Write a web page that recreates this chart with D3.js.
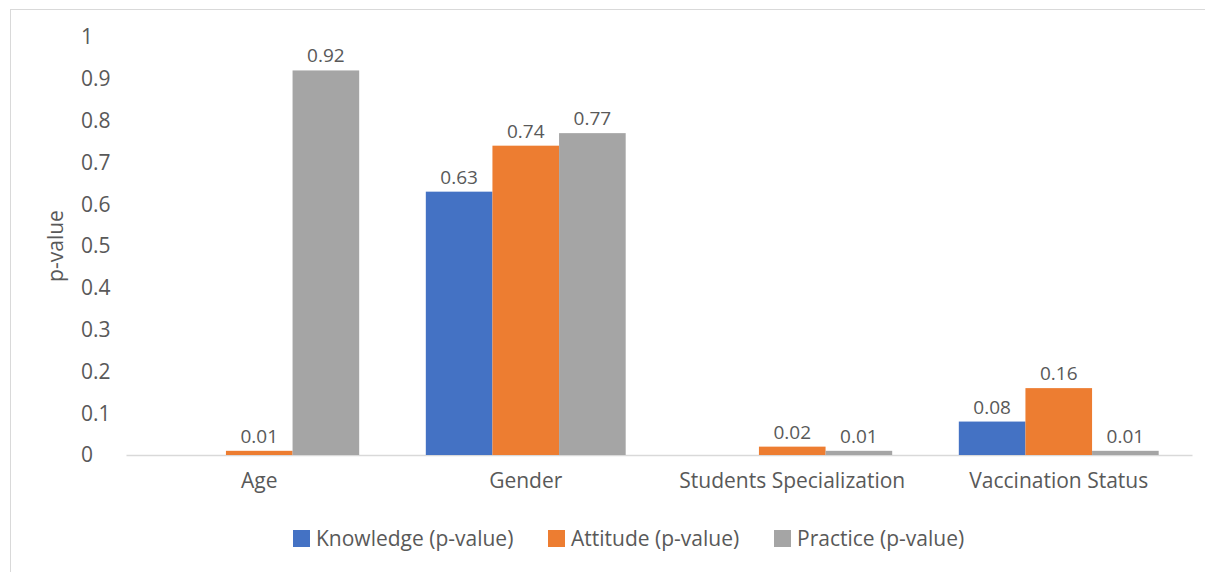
<!DOCTYPE html>
<html>
<head>
<meta charset="utf-8">
<script src="https://cdn.jsdelivr.net/npm/d3@7"></script>
<style>
  body { margin: 0; background: #fff; }
  text { font-family: "Open Sans", "Noto Sans", sans-serif; fill: #595959; }
</style>
</head>
<body>
<svg id="chart" width="1205" height="572"></svg>
<script>
const categories = ['Age', 'Gender', 'Students Specialization', 'Vaccination Status'];
const seriesNames = ['Knowledge (p-value)', 'Attitude (p-value)', 'Practice (p-value)'];
const knowledge = [null, 0.63, null, 0.08];
const attitude = [0.01, 0.74, 0.02, 0.16];
const practice = [0.92, 0.77, 0.01, 0.01];
const yTicks = [0, 0.1, 0.2, 0.3, 0.4, 0.5, 0.6, 0.7, 0.8, 0.9, 1];
const colors = ['#4472C4', '#ED7D31', '#A5A5A5'];

const width = 1205;
const height = 572;
const svg = d3.select('#chart');

// outer chart border
svg.append('rect')
  .attr('x', 10.5).attr('y', 9.5)
  .attr('width', width - 8).attr('height', height)
  .attr('fill', 'none').attr('stroke', '#d9d9d9');

const xScale = d3.scaleBand().domain(categories).range([126, 1192]).paddingInner(0).paddingOuter(0);
const inner = d3.scaleBand().domain(seriesNames).range([0, xScale.bandwidth()]).paddingInner(0).paddingOuter(0.5);
const yScale = d3.scaleLinear().domain([0, 1]).range([455, 37]);

// y tick labels
svg.append('g').selectAll('text').data(yTicks).join('text')
  .attr('x', 81).attr('y', d => yScale(d))
  .attr('dy', '0.35em')
  .attr('font-size', 21)
  .text(d => d3.format('~g')(d));

// y axis title
svg.append('text')
  .attr('transform', `translate(56,${yScale(0.5)}) rotate(-90)`)
  .attr('text-anchor', 'middle')
  .attr('dy', '0.35em')
  .attr('font-size', 21)
  .text('p-value');

// x axis
const xAxis = d3.axisBottom(xScale).tickSize(0).tickPadding(18);
const xg = svg.append('g').attr('transform', `translate(0,${yScale(0)})`).call(xAxis);
xg.select('.domain').attr('stroke', '#d9d9d9').attr('stroke-width', 1.5);
xg.selectAll('text').attr('font-size', 21).attr('fill', '#595959')
  .style('font-family', '"Open Sans", "Noto Sans", sans-serif');

const rows = [];
const seriesValues = [knowledge, attitude, practice];
categories.forEach((c, i) => {
  seriesNames.forEach((s, j) => {
    const v = seriesValues[j][i];
    if (v !== null) rows.push({ cat: c, series: s, idx: j, value: v });
  });
});

const bars = svg.append('g');
bars.selectAll('rect').data(rows).join('rect')
  .attr('x', d => xScale(d.cat) + inner(d.series))
  .attr('y', d => yScale(d.value))
  .attr('width', inner.bandwidth())
  .attr('height', d => yScale(0) - yScale(d.value))
  .attr('fill', d => colors[d.idx]);

bars.selectAll('text').data(rows).join('text')
  .attr('x', d => xScale(d.cat) + inner(d.series) + inner.bandwidth() / 2)
  .attr('y', d => yScale(d.value) - 8)
  .attr('text-anchor', 'middle')
  .attr('font-size', 19)
  .attr('fill', '#404040')
  .text(d => d.value);

// legend
const legendX = [293, 548, 774];
const legend = svg.append('g');
seriesNames.forEach((s, j) => {
  legend.append('rect')
    .attr('x', legendX[j]).attr('y', 530)
    .attr('width', 17).attr('height', 17)
    .attr('fill', colors[j]);
  legend.append('text')
    .attr('x', legendX[j] + 23).attr('y', 539)
    .attr('dy', '0.35em')
    .attr('font-size', 21)
    .text(s);
});
</script>
</body>
</html>
